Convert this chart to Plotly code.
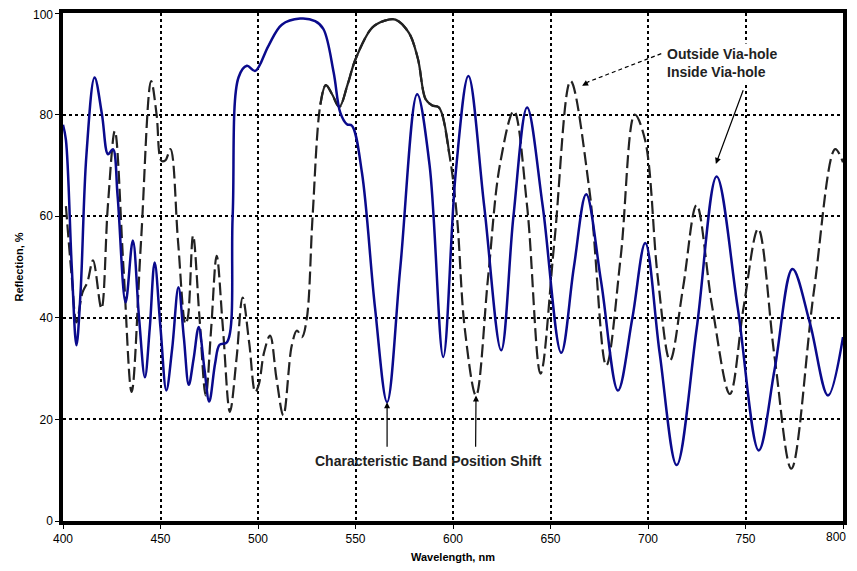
import plotly.graph_objects as go

# Inside Via-hole (solid navy)
inside_nm = [400, 401.5, 404.5, 406.9, 409, 412, 416.2, 420, 423.1, 425.6, 428, 432.1, 435.8, 439, 442,
             444.5, 447, 450, 453, 456, 459.2, 462, 464.5, 467, 469.6, 472.5, 475, 478, 480.3, 484.1,
             487, 490, 494.3, 498.6, 505.3, 512.2, 521.6, 529.3, 533.6, 538.8, 542.2, 545.6, 548.2,
             553.3, 560, 566.2, 573, 581.6, 588, 595, 601.4, 607.9, 616, 624.7, 631, 638, 646, 655.5,
             662, 668.3, 676, 684.6, 692, 698.6, 706, 714.7, 725, 735.2, 746, 756.8, 765, 774.1, 783,
             792.3, 800]
inside_val = [78, 75, 50, 34.6, 45, 72, 87.3, 80, 72.2, 73.2, 64, 43, 55.2, 40, 28.3,
              38, 50.9, 38, 25.7, 34, 46, 36, 26.8, 32, 38.2, 30, 23.5, 31, 34.7, 35.2,
              60, 87.3, 89.6, 88.6, 93.5, 97.7, 98.9, 98.4, 96.8, 88.3, 80.4, 78.1, 77.8,
              68.6, 42, 23.4, 50, 84, 70, 32.3, 68.6, 87.6, 62, 33.6, 60, 81.4, 62, 33.1,
              50, 64.3, 47, 25.7, 40, 54.7, 33, 11, 38, 67.8, 42, 13.9, 30, 49.6, 39,
              24.7, 36.2]

# Outside Via-hole (dashed)
outside_nm = [401.5, 404.5, 406.9, 410, 412.5, 415.4, 419.7, 423, 426.6, 431, 435.2, 440, 445.2, 448,
              450.5, 452.5, 455.1, 459, 462.8, 464, 466.7, 470, 473.2, 476, 478.8, 482, 485.6, 489,
              492.1, 495.5, 498.6, 500.5, 503, 506.2, 509.5, 513, 517.3, 520, 522.5, 525, 528, 532,
              534.8, 538, 541.7, 546, 550, 558.5, 565, 570.5, 577.4, 582, 586, 589.4, 592.8, 598,
              602, 606, 611.8, 618, 624, 631.2, 638, 644.9, 652, 660.3, 670, 678.6, 686, 693.2,
              698.5, 705, 711.3, 718, 724.9, 733, 742, 749, 756.5, 765, 773.5, 785, 796, 800]
outside_val = [62, 48, 39.1, 45, 47, 51.3, 41.8, 62, 76.8, 50, 25.4, 55, 86.6, 80,
               70.9, 71, 73.2, 55, 38.8, 40, 56.2, 40, 24.7, 38, 52.2, 38, 21.5, 32,
               44, 35, 25.4, 27, 33, 36.5, 28, 20.8, 34.5, 37.5, 36.2, 39.8, 60, 82,
               85.8, 84, 81.5, 86, 90.9, 97.1, 98.5, 98.7, 96.1, 91, 83, 81.8, 81.4, 72.5,
               60, 38, 24.7, 48, 70, 80.7, 62, 29, 55, 86.6, 65, 30.6, 52, 80,
               75, 48, 31.6, 46, 62.2, 42, 25, 42, 57.5, 32, 10.3, 45, 73.2, 70.6]

# the outside curve is drawn unbroken over its flat top (indices of outside_nm)
solid_start, solid_end = 41, 56

x_ticks = [400, 450, 500, 550, 600, 650, 700, 750, 800]
x_ticktext = ["400", "450", "500", "550", "600", "650", "700", "750", ""]  # edge label placed as text
last_x_label = "800"
y_ticks = [0, 20, 40, 60, 80, 100]
y_ticktext = ["0", "20", "40", "60", "80", ""]  # edge label placed as text
top_y_label = "100"

FONT = "Liberation Sans, Arial, sans-serif"
DARK = "#222222"

fig = go.Figure()
fig.add_trace(go.Scatter(x=outside_nm, y=outside_val, mode="lines", name="Outside Via-hole",
                         line=dict(color=DARK, width=2.2, dash="13px,5px", shape="spline")))
fig.add_trace(go.Scatter(x=outside_nm[solid_start:solid_end], y=outside_val[solid_start:solid_end],
                         mode="lines", name="Outside Via-hole", showlegend=False, hoverinfo="skip",
                         line=dict(color=DARK, width=2.2, shape="spline")))
fig.add_trace(go.Scatter(x=inside_nm, y=inside_val, mode="lines", name="Inside Via-hole",
                         line=dict(color="#0a0a8c", width=2.5, shape="spline")))

# page body has an 8px margin, so the figure is offset by 8px
fig.update_layout(
    width=849, height=555,
    margin=dict(l=55, r=13.5, t=4.5, b=42),
    paper_bgcolor="white", plot_bgcolor="white",
    showlegend=False,
    font=dict(family=FONT, size=12, color="black"),
)
fig.update_xaxes(range=[400, 800], tickvals=x_ticks, ticktext=x_ticktext, ticks="outside", ticklen=4,
                 tickcolor="black",
                 showline=True, linecolor="black", linewidth=3.5, mirror=True,
                 showgrid=True, gridcolor="black", gridwidth=2, griddash="3px,3px",
                 zeroline=False, automargin=False, ticklabeloverflow="allow",
                 title=dict(text="<b>Wavelength, nm</b>", font=dict(size=11)))
fig.update_yaxes(range=[0, 100], tickvals=y_ticks, ticktext=y_ticktext, ticks="outside", ticklen=4,
                 tickcolor="black",
                 showline=True, linecolor="black", linewidth=3.5, mirror=True,
                 showgrid=True, gridcolor="black", gridwidth=2, griddash="3px,3px",
                 zeroline=False, automargin=False, ticklabeloverflow="allow",
                 title=dict(text="<b>Reflection, %</b>", font=dict(size=11)))

fig.add_annotation(x=800, y=0, xref="x", yref="paper", xanchor="right", yanchor="middle",
                   xshift=5, yshift=-16, text=last_x_label, showarrow=False,
                   font=dict(family=FONT, size=12, color="black"))
fig.add_annotation(x=0, y=100, xref="paper", yref="y", xanchor="right", yanchor="middle",
                   xshift=-8, yshift=-1.5, text=top_y_label, showarrow=False,
                   font=dict(family=FONT, size=12, color="black"))

ann_font = dict(family=FONT, size=14, color="#222")
fig.add_annotation(x=587.5, y=11.8, xref="x", yref="y", text="<b>Characteristic Band Position Shift</b>",
                   showarrow=False, font=ann_font)
fig.add_annotation(x=566.2, y=23.4, ax=566.2, ay=14.3, xref="x", yref="y", axref="x", ayref="y",
                   text="", showarrow=True, arrowhead=2, arrowsize=1, arrowwidth=1.2, arrowcolor="black")
fig.add_annotation(x=611.8, y=24.7, ax=611.6, ay=14.3, xref="x", yref="y", axref="x", ayref="y",
                   text="", showarrow=True, arrowhead=2, arrowsize=1, arrowwidth=1.2, arrowcolor="black")
fig.add_annotation(x=708.0, y=90.2, xref="x", yref="y", xanchor="left", align="left",
                   text="<b>Outside Via-hole<br>Inside Via-hole</b>", bgcolor="white", borderpad=2,
                   showarrow=False, font=ann_font)
# dashed arrow to the outside curve
fig.add_shape(type="line", x0=706.8, y0=92.0, x1=669, y1=86.4, xref="x", yref="y",
              line=dict(color="black", width=1.2, dash="4px,3px"))
fig.add_annotation(x=666.2, y=85.7, ax=670, ay=86.5, xref="x", yref="y", axref="x", ayref="y",
                   text="", showarrow=True, arrowhead=2, arrowsize=1, arrowwidth=1.2, arrowcolor="black")
fig.add_annotation(x=734.8, y=70.3, ax=749.1, ay=85.1, xref="x", yref="y", axref="x", ayref="y",
                   text="", showarrow=True, arrowhead=2, arrowsize=1, arrowwidth=1.2, arrowcolor="black")

fig.write_html("out.html")
